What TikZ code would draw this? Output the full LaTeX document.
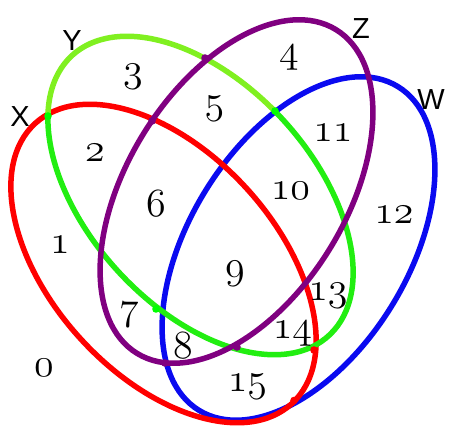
\RequirePackage{fix-cm}
\documentclass[tikz,border=0pt]{standalone}
\usepackage{fontspec}
\newfontfamily\labelfont{Liberation Sans}
\definecolor{vred}{HTML}{FF0000}
\definecolor{vblue}{HTML}{0A0AF0}
\definecolor{vpurple}{HTML}{800080}
\definecolor{vlime}{HTML}{80F020}
\definecolor{vgreen}{HTML}{22EE11}
\definecolor{vpure}{HTML}{00FF00}
\newcommand\osnfont{\fontsize{40}{46}\usefont{OML}{cmm}{m}{it}}
\newcommand\setnamefont{\fontsize{29}{33}\labelfont}
\tikzset{
  setline/.style={line width=5.5pt},
  num/.style={inner sep=0pt, font=\osnfont},
  setname/.style={inner sep=0pt, font=\setnamefont},
  blob/.style={radius=3.8pt}
}
\begin{document}
\begin{tikzpicture}[x=1pt,y=1pt]
\useasboundingbox (0,0) rectangle (453,439);
% W (blue)
\draw[setline, vblue, rotate around={58.4:(298.5,190.5)}] (298.5,190.5) ellipse [x radius=190pt, y radius=109.5pt];
% X (red)
\draw[setline, vred, rotate around={-47.5:(163.5,175.5)}] (163.5,175.5) ellipse [x radius=190pt, y radius=112pt];
% Y (green), two coloured arcs
\draw[setline, vgreen, rotate around={-47.5:(200.5,243.5)}] (200.5,243.5) ++(-266.2:190pt and 112pt) arc[start angle=-266.2, end angle=-508.8, x radius=190pt, y radius=112pt];
\draw[setline, vlime, rotate around={-47.5:(200.5,243.5)}] (200.5,243.5) ++(-148.8:190pt and 112pt) arc[start angle=-148.8, end angle=-266.2, x radius=190pt, y radius=112pt];
% Z (purple)
\draw[setline, vpurple, rotate around={58.4:(236.5,247.5)}] (236.5,247.5) ellipse [x radius=190pt, y radius=109.5pt];
% small joints at crossings
\fill[vpure] (48,323) circle[blob];
\fill[vpure] (275,328) circle[blob];
\fill[vpure] (156,130) circle[blob];
\fill[vpurple] (152,318) circle[blob];
\fill[vpurple] (205,381) circle[blob];
\fill[vpurple] (237,92) circle[blob];
\fill[vpurple] (165,76) circle[blob];
\fill[vred] (314,89) circle[blob];
\fill[vred] (294,38.5) circle[blob];
% set names
\node[setname] (nX) at (20,322) {X};
\node[setname] (nY) at (72,398) {Y};
\node[setname] (nZ) at (361,410.5) {Z};
\node[setname] (nW) at (431,339.5) {W};
% region numbers
\node[num] (r0) at (44,71.5) {0};
\node[num] (r1) at (60,194) {1};
\node[num] (r2) at (95,286.5) {2};
\node[num] (r3) at (133,362) {3};
\node[num] (r4) at (289,381) {4};
\node[num] (r5) at (214.5,330.3) {5};
\node[num] (r6) at (156,235) {6};
\node[num] (r7) at (129,124.5) {7};
\node[num] (r8) at (183,93) {8};
\node[num] (r9) at (235,165) {9};
\node[num] (r10) at (290.5,248) {10};
\node[num] (r11) at (333,306) {11};
\node[num] (r12) at (394,224.5) {12};
\node[num] (r13) at (328,143) {13};
\node[num] (r14) at (292.5,105.5) {14};
\node[num] (r15) at (247.5,52) {15};
\end{tikzpicture}
\end{document}
